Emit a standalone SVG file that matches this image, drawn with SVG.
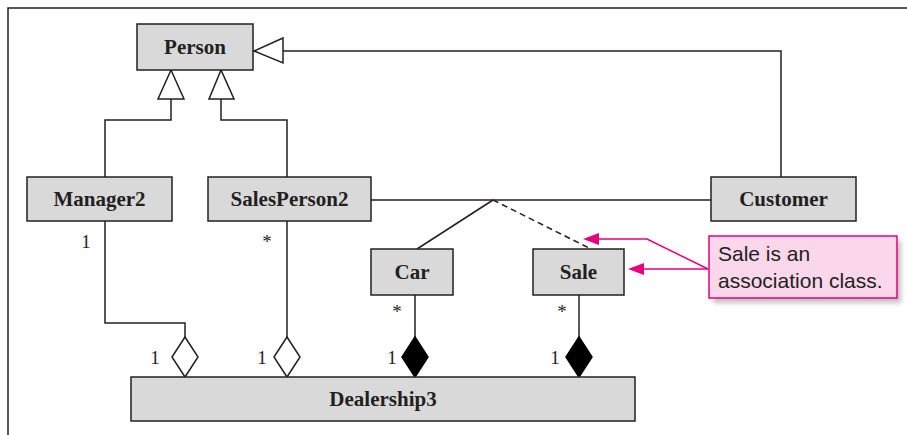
<svg xmlns="http://www.w3.org/2000/svg" width="907" height="435" viewBox="0 0 907 435">
<defs>
<style>
.cls{fill:#d9d9d9;stroke:#231f20;stroke-width:1.5}
.name{font-family:"Liberation Serif",serif;font-weight:bold;font-size:21px;fill:#231f20;text-anchor:middle}
.mult{font-family:"Liberation Serif",serif;font-size:19px;fill:#231f20;text-anchor:middle}
.ln{fill:none;stroke:#231f20;stroke-width:1.5}
.tri{fill:#fff;stroke:#231f20;stroke-width:1.5}
.od{fill:#fff;stroke:#231f20;stroke-width:1.5}
.fd{fill:#000;stroke:#000;stroke-width:1.5}
.pink{fill:none;stroke:#e6007e;stroke-width:1.5}
.ph{fill:#e6007e}
.note{font-family:"Liberation Sans",Arial,sans-serif;font-size:21px;fill:#231f20}
</style>
<filter id="sh" x="-10%" y="-10%" width="130%" height="140%">
<feGaussianBlur stdDeviation="2.5"/>
</filter>
</defs>
<rect width="907" height="435" fill="#fff"/>
<path class="ln" d="M8,435 V8 H907" stroke="#444"/>
<g id="connectors">
<path class="ln" d="M283,51 H781 V177"/>
<polygon class="tri" points="254,51 283,38 283,63"/>
<path class="ln" d="M105,177 V120 H171 V99"/>
<polygon class="tri" points="171,70 158,99 184,99"/>
<path class="ln" d="M287,177 V120 H221 V99"/>
<polygon class="tri" points="221,70 209,99 234,99"/>
<path class="ln" d="M371,200 H711"/>
<path class="ln" d="M493,200 L417,249"/>
<path class="ln" d="M493,200 L591,249" stroke-dasharray="6,4"/>
<path class="ln" d="M105,221 V323 H185 V337"/>
<polygon class="od" points="185,337 198,357 185,377 172,357"/>
<path class="ln" d="M287,221 V337"/>
<polygon class="od" points="287,337 300,357 287,377 274,357"/>
<path class="ln" d="M415,295 V337"/>
<polygon class="fd" points="415,337 428,357 415,377 402,357"/>
<path class="ln" d="M579,295 V337"/>
<polygon class="fd" points="579,337 592,357 579,377 566,357"/>
<text class="mult" x="86" y="248">1</text>
<text class="mult" x="267" y="248">*</text>
<text class="mult" x="397" y="318">*</text>
<text class="mult" x="562" y="318">*</text>
<text class="mult" x="155" y="364">1</text>
<text class="mult" x="262" y="364">1</text>
<text class="mult" x="392" y="364">1</text>
<text class="mult" x="555" y="364">1</text>
</g>
<g id="Person"><rect class="cls" x="137" y="24" width="116" height="46"/><text class="name" x="195" y="54">Person</text></g>
<g id="Manager2"><rect class="cls" x="27" y="177" width="145" height="44"/><text class="name" x="99.5" y="206">Manager2</text></g>
<g id="SalesPerson2"><rect class="cls" x="208" y="177" width="163" height="44"/><text class="name" x="289.5" y="206">SalesPerson2</text></g>
<g id="Customer"><rect class="cls" x="711" y="177" width="145" height="44"/><text class="name" x="783.5" y="206">Customer</text></g>
<g id="Car"><rect class="cls" x="371" y="249" width="82" height="46"/><text class="name" x="412" y="279">Car</text></g>
<g id="Sale"><rect class="cls" x="533" y="249" width="91" height="46"/><text class="name" x="578.5" y="279">Sale</text></g>
<g id="Dealership3"><rect class="cls" x="131" y="377" width="504" height="44"/><text class="name" x="383" y="406">Dealership3</text></g>
<g id="note">
<rect x="713" y="241" width="188" height="62" fill="#999" opacity="0.6" filter="url(#sh)"/>
<rect x="709" y="236" width="188" height="62" fill="#fbd7ec" stroke="#e6007e" stroke-width="1.5"/>
<text class="note" x="718" y="261">Sale is an</text>
<text class="note" x="718" y="288">association class.</text>
<path class="pink" d="M708,269 H640"/>
<polygon class="ph" points="628,269 644,263 644,275"/>
<path class="pink" d="M708,269 L647,239 H595"/>
<polygon class="ph" points="583,239 599,233 599,245"/>
</g>
</svg>
